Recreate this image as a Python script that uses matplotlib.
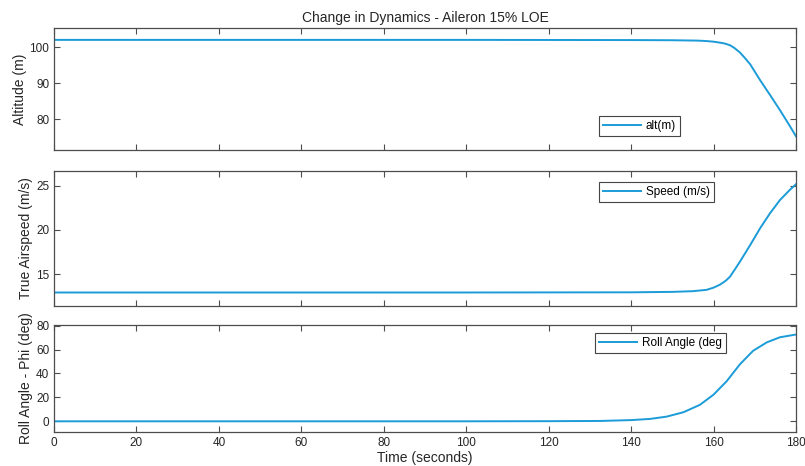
import matplotlib.pyplot as plt

plt.rcParams['font.family'] = ['Liberation Sans', 'DejaVu Sans']

# Values (time in seconds)
t_alt = [0, 100, 140, 150, 156, 158, 160, 162, 163, 164, 165, 166.4, 167.5, 168.9,
         171.3, 173.7, 176.1, 178.6, 180]
altitude = [102, 102, 101.95, 101.9, 101.8, 101.7, 101.5, 101.15, 100.9, 100.5, 99.8,
            98.5, 97.1, 95.2, 90.8, 86.7, 82.5, 77.9, 75.2]

t_spd = [0, 100, 140, 150, 155, 158.3, 160, 161.6, 163, 164, 165, 166.4, 168.9, 171.3,
         173.7, 176.1, 178.6, 180]
speed = [12.9, 12.9, 12.92, 12.97, 13.05, 13.2, 13.45, 13.8, 14.25, 14.7, 15.4, 16.4,
         18.3, 20.2, 21.9, 23.4, 24.6, 25.2]

t_roll = [0, 100, 120, 132.5, 140, 144.6, 148.6, 152.7, 156.7, 160, 163.2, 166.4,
          169.6, 172.9, 176.1, 180]
roll = [0, 0, 0.1, 0.3, 1, 2, 3.9, 7.6, 13.8, 22.3, 33.6, 47.7, 59, 66, 70.3, 72.6]

line_col = '#1b9bd7'
frame_col = '#4d4d4d'
text_col = '#262626'

fig = plt.figure(figsize=(8.05, 4.66), dpi=100)
ax1 = fig.add_axes([0.0671, 0.6781, 0.9217, 0.2618])
ax2 = fig.add_axes([0.0671, 0.3440, 0.9217, 0.2890])
ax3 = fig.add_axes([0.0671, 0.0736, 0.9217, 0.2283])

panels = [
    (ax1, t_alt, altitude, 'alt(m)', 'Altitude (m)', (71.4, 105.3), [80, 90, 100],
     (0.7345, 0.279)),
    (ax2, t_spd, speed, 'Speed (m/s)', 'True Airspeed (m/s)', (11.4, 26.7), [15, 20, 25],
     (0.7345, 0.918)),
    (ax3, t_roll, roll, 'Roll Angle (deg', 'Roll Angle - Phi (deg)', (-8.7, 80.3),
     [0, 20, 40, 60, 80], (0.729, 0.928)),
]

for ax, t, v, lab, ylab, ylim, yt, legpos in panels:
    ax.plot(t, v, color=line_col, lw=1.4, label=lab)
    ax.set_xlim(0, 180)
    ax.set_ylim(*ylim)
    ax.set_yticks(yt)
    ax.set_xticks(range(0, 181, 20))
    ax.tick_params(direction='in', top=True, right=True, length=4, width=0.8,
                   colors=frame_col, labelcolor=text_col, labelsize=8.5)
    for s in ax.spines.values():
        s.set_color(frame_col)
        s.set_linewidth(0.9)
    ax.set_ylabel(ylab, fontsize=10, color=text_col, labelpad=2)
    leg = ax.legend(loc='upper left', bbox_to_anchor=legpos, borderaxespad=0,
                    fontsize=8.5, fancybox=False, framealpha=1, borderpad=0.35,
                    handlelength=3.2, handletextpad=0.4)
    leg.get_frame().set_edgecolor('#444444')
    leg.get_frame().set_linewidth(0.8)

ax1.tick_params(labelbottom=False)
ax2.tick_params(labelbottom=False)
ax1.set_title('Change in Dynamics - Aileron 15% LOE', fontsize=10, color=text_col, pad=4)
ax3.set_xlabel('Time (seconds)', fontsize=10, color=text_col, labelpad=2)

fig.savefig('out.png', dpi=100)
